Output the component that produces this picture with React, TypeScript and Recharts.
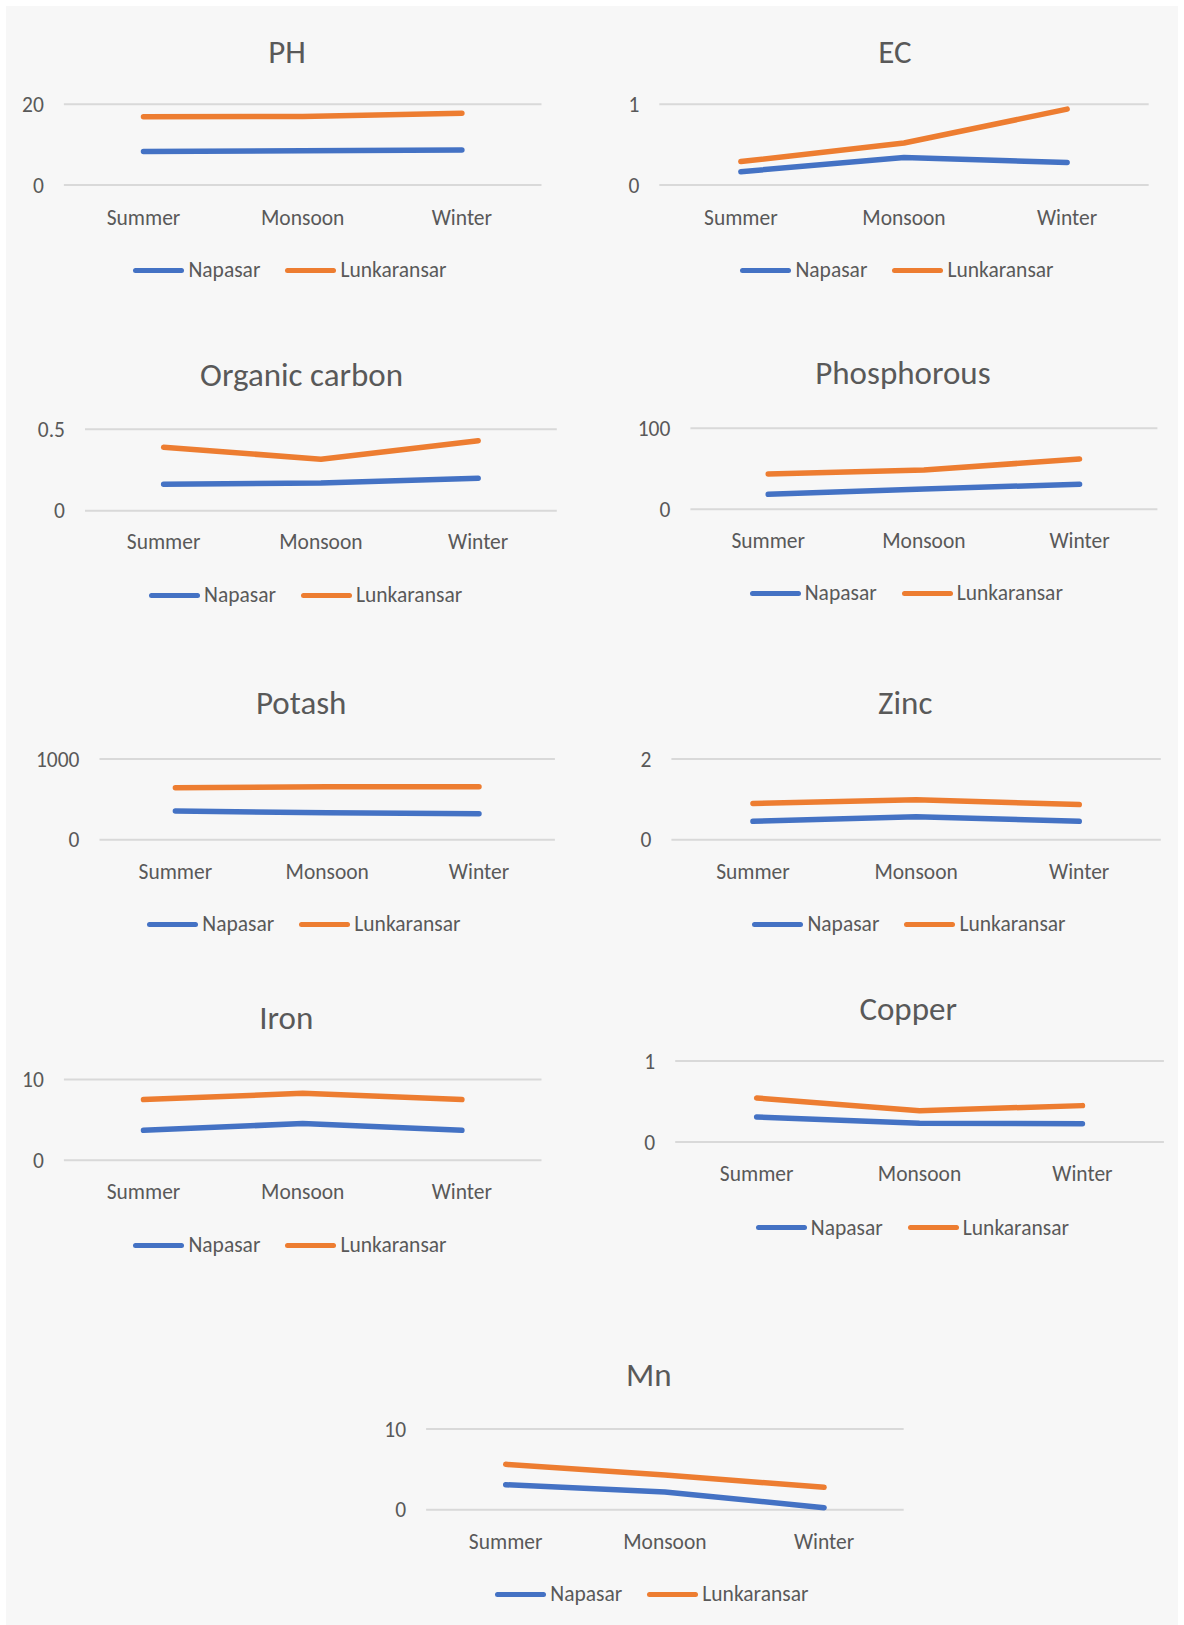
import React from 'react';
import { LineChart, Line, XAxis, YAxis, CartesianGrid, Legend } from 'recharts';

// Seasons shared by every panel
const seasons = ['Summer', 'Monsoon', 'Winter'];
const siteNames = ['Napasar', 'Lunkaransar'];

// Parameter values per site, in season order
const phNapasar = [8.3, 8.5, 8.7];
const phLunkaransar = [16.9, 17.0, 17.8];
const ecNapasar = [0.165, 0.34, 0.28];
const ecLunkaransar = [0.29, 0.52, 0.94];
const ocNapasar = [0.162, 0.17, 0.2];
const ocLunkaransar = [0.39, 0.316, 0.43];
const phosNapasar = [18.5, 25, 31];
const phosLunkaransar = [43.6, 48.6, 62];
const potashNapasar = [355, 335, 322];
const potashLunkaransar = [645, 657, 657];
const zincNapasar = [0.455, 0.57, 0.455];
const zincLunkaransar = [0.9, 0.99, 0.87];
const ironNapasar = [3.72, 4.55, 3.72];
const ironLunkaransar = [7.52, 8.3, 7.52];
const copperNapasar = [0.309, 0.23, 0.226];
const copperLunkaransar = [0.543, 0.387, 0.449];
const mnNapasar = [3.1, 2.19, 0.25];
const mnLunkaransar = [5.62, 4.3, 2.77];

// Y axis upper bound for each panel
const axisMax = { ph: 20, ec: 1, oc: 0.5, phos: 100, potash: 1000, zinc: 2, iron: 10, copper: 1, mn: 10 };

const BLUE = '#4472C4';
const ORANGE = '#ED7D31';
const TEXT = '#595959';
const GRID = '#D9D9D9';
const FONT = 'Calibri, Carlito, Lato, sans-serif';
const TICK_SIZE = 21.5;

type PanelLayout = {
  boxL: number;
  cx: number;
  titleX: number;
  titleY: number;
  plotL: number;
  plotR: number;
  plotTop: number;
  plotBottom: number;
  labelY: number;
  legendY: number;
};

type PanelProps = {
  title: string;
  napasar: number[];
  lunkaransar: number[];
  max: number;
  layout: PanelLayout;
};

const legendContent = () => (
  <div
    style={{
      display: 'flex',
      justifyContent: 'center',
      alignItems: 'center',
      height: 26,
      fontFamily: FONT,
      fontSize: TICK_SIZE,
      color: TEXT,
      whiteSpace: 'nowrap',
    }}
  >
    {siteNames.map((name, i) => (
      <div key={name} style={{ display: 'flex', alignItems: 'center', marginLeft: i === 0 ? 0 : 25 }}>
        <span
          style={{
            display: 'inline-block',
            width: 51,
            height: 5,
            borderRadius: 2.5,
            background: i === 0 ? BLUE : ORANGE,
          }}
        />
        <span style={{ marginLeft: 4 }}>{name}</span>
      </div>
    ))}
  </div>
);

function Panel({ title, napasar, lunkaransar, max, layout }: PanelProps) {
  const { boxL, cx, titleX, titleY, plotL, plotR, plotTop, plotBottom, labelY, legendY } = layout;
  const boxT = titleY - 30;
  const width = plotR + 15 - boxL;
  const height = legendY + 25 - boxT;
  const xAxisHeight = 30;
  const plotW = plotR - plotL;
  const rows = seasons.map((season, i) => ({
    season,
    Napasar: napasar[i],
    Lunkaransar: lunkaransar[i],
  }));

  return (
    <>
      <div
        style={{
          position: 'absolute',
          left: titleX - 250,
          top: titleY - 22,
          width: 500,
          height: 44,
          lineHeight: '44px',
          textAlign: 'center',
          fontFamily: FONT,
          fontSize: 33,
          color: TEXT,
        }}
      >
        {title}
      </div>
      <div style={{ position: 'absolute', left: boxL, top: boxT }}>
        <LineChart
          width={width}
          height={height}
          data={rows}
          margin={{
            top: plotTop - boxT,
            right: boxL + width - plotR,
            left: 0,
            bottom: boxT + height - plotBottom - xAxisHeight,
          }}
        >
          <CartesianGrid vertical={false} stroke={GRID} strokeWidth={2} />
          <XAxis
            dataKey="season"
            height={xAxisHeight}
            axisLine={false}
            tickLine={false}
            tickSize={0}
            tickMargin={labelY - plotBottom - 7.5}
            interval={0}
            padding={{ left: plotW / 6, right: plotW / 6 }}
            tick={{ fill: TEXT, fontSize: TICK_SIZE, fontFamily: FONT }}
          />
          <YAxis
            width={plotL - boxL}
            domain={[0, max]}
            ticks={[0, max]}
            axisLine={false}
            tickLine={false}
            tickSize={0}
            tickMargin={20}
            tick={{ fill: TEXT, fontSize: TICK_SIZE, fontFamily: FONT }}
          />
          <Legend
            verticalAlign="middle"
            align="center"
            content={legendContent}
            wrapperStyle={{ left: cx - boxL - 250, top: legendY - boxT - 13, width: 500, height: 26 }}
          />
          <Line
            type="linear"
            dataKey="Napasar"
            stroke={BLUE}
            strokeWidth={5.5}
            strokeLinecap="round"
            strokeLinejoin="round"
            dot={false}
            isAnimationActive={false}
          />
          <Line
            type="linear"
            dataKey="Lunkaransar"
            stroke={ORANGE}
            strokeWidth={5.5}
            strokeLinecap="round"
            strokeLinejoin="round"
            dot={false}
            isAnimationActive={false}
          />
        </LineChart>
      </div>
    </>
  );
}

const layouts: Record<string, PanelLayout> = {
  ph: { boxL: 0, cx: 290, titleX: 287, titleY: 52, plotL: 63.9, plotR: 541.5, plotTop: 104.3, plotBottom: 185, labelY: 217, legendY: 270 },
  ec: { boxL: 580, cx: 897, titleX: 895, titleY: 52, plotL: 659.3, plotR: 1148.7, plotTop: 104.3, plotBottom: 185, labelY: 217, legendY: 270 },
  oc: { boxL: 0, cx: 305.6, titleX: 301.6, titleY: 375, plotL: 85, plotR: 556.8, plotTop: 429.3, plotBottom: 510.7, labelY: 541.7, legendY: 595 },
  phos: { boxL: 580, cx: 906.3, titleX: 902.9, titleY: 373, plotL: 690.4, plotR: 1157.4, plotTop: 428.3, plotBottom: 509.3, labelY: 540.7, legendY: 593.3 },
  potash: { boxL: 0, cx: 303.9, titleX: 301.2, titleY: 703, plotL: 99.5, plotR: 554.9, plotTop: 759, plotBottom: 839.7, labelY: 871, legendY: 924 },
  zinc: { boxL: 580, cx: 909, titleX: 905.2, titleY: 703, plotL: 671.4, plotR: 1160.8, plotTop: 759, plotBottom: 839.7, labelY: 871, legendY: 924 },
  iron: { boxL: 0, cx: 290, titleX: 286.3, titleY: 1017.7, plotL: 63.9, plotR: 541.5, plotTop: 1079.3, plotBottom: 1160, labelY: 1191, legendY: 1245.3 },
  copper: { boxL: 580, cx: 912.4, titleX: 908.2, titleY: 1009, plotL: 675.2, plotR: 1163.9, plotTop: 1061, plotBottom: 1142, labelY: 1173, legendY: 1227.7 },
  mn: { boxL: 330, cx: 651.9, titleX: 648.8, titleY: 1375, plotL: 426.1, plotR: 903.7, plotTop: 1429, plotBottom: 1509.7, labelY: 1541, legendY: 1594 },
};

export default function App() {
  return (
    <div style={{ position: 'absolute', left: 0, top: 0, width: 1184, height: 1625, background: '#ffffff', overflow: 'hidden' }}>
      <div style={{ position: 'absolute', left: 6, top: 6, width: 1172, height: 1619, background: '#F7F7F7' }} />
      <Panel title="PH" napasar={phNapasar} lunkaransar={phLunkaransar} max={axisMax.ph} layout={layouts.ph} />
      <Panel title="EC" napasar={ecNapasar} lunkaransar={ecLunkaransar} max={axisMax.ec} layout={layouts.ec} />
      <Panel title="Organic carbon" napasar={ocNapasar} lunkaransar={ocLunkaransar} max={axisMax.oc} layout={layouts.oc} />
      <Panel title="Phosphorous" napasar={phosNapasar} lunkaransar={phosLunkaransar} max={axisMax.phos} layout={layouts.phos} />
      <Panel title="Potash" napasar={potashNapasar} lunkaransar={potashLunkaransar} max={axisMax.potash} layout={layouts.potash} />
      <Panel title="Zinc" napasar={zincNapasar} lunkaransar={zincLunkaransar} max={axisMax.zinc} layout={layouts.zinc} />
      <Panel title="Iron" napasar={ironNapasar} lunkaransar={ironLunkaransar} max={axisMax.iron} layout={layouts.iron} />
      <Panel title="Copper" napasar={copperNapasar} lunkaransar={copperLunkaransar} max={axisMax.copper} layout={layouts.copper} />
      <Panel title="Mn" napasar={mnNapasar} lunkaransar={mnLunkaransar} max={axisMax.mn} layout={layouts.mn} />
    </div>
  );
}
